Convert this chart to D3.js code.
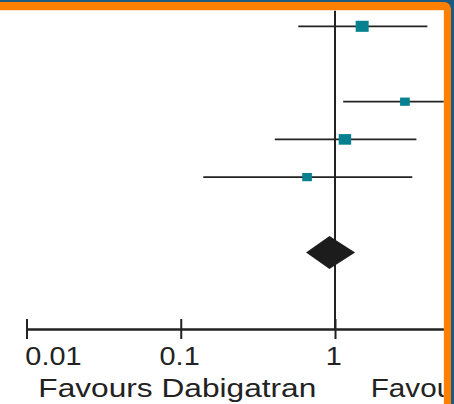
<!DOCTYPE html>
<html>
<head>
<meta charset="utf-8">
<script src="https://cdn.jsdelivr.net/npm/d3@7"></script>
<style>
  html, body { margin: 0; padding: 0; background: #fff; }
  svg { display: block; }
  text { font-family: "Liberation Sans", Arial, sans-serif; fill: #222; }
</style>
</head>
<body>
<script>
// ---- data ----
const rows = ["Study 1", "(blank 1)", "Study 2", "Study 3", "Study 4", "(blank 2)", "Overall"];
const studies = ["Study 1", "Study 2", "Study 3", "Study 4"];
const estimate = [1.50, 2.84, 1.16, 0.659];
const lower = [0.578, 1.13, 0.407, 0.140];
const upper = [3.97, 9.0, 3.37, 3.17];
const weight = [36, 20, 33, 20];
const pooled = { lower: 0.649, estimate: 0.921, upper: 1.349 };
const tickValues = [0.01, 0.1, 1];
const tickLabels = ["0.01", "0.1", "1"];
const leftTitle = "Favours Dabigatran";
const rightTitle = "Favours Warfarin";

// ---- layout ----
const W = 454, H = 404;
const svg = d3.select("body").append("svg").attr("width", W).attr("height", H);

const x = d3.scaleLog().domain([0.01, 10]).range([26.5, 26.5 + 154.25 * 3]);
const y = d3.scalePoint().domain(rows).range([26.3, 252.5]);
const size = d3.scaleSqrt().domain([0, 36]).range([0, 13]);
const axisY = 329;

// frame: blue background, orange rounded frame, white inner panel
svg.append("rect").attr("x", 0).attr("y", 0).attr("width", W).attr("height", H).attr("fill", "#1b5a82");
svg.append("rect").attr("x", -20).attr("y", 2).attr("width", 471).attr("height", H + 30).attr("rx", 7).attr("fill", "#ff7f00");
svg.append("rect").attr("x", -20).attr("y", 10).attr("width", 464).attr("height", H + 30).attr("fill", "#ffd9b0");
svg.append("rect").attr("x", -20).attr("y", 10.7).attr("width", 463.5).attr("height", H + 30).attr("fill", "#ffffff");

const defs = svg.append("defs");
defs.append("clipPath").attr("id", "inner")
  .append("rect").attr("x", -20).attr("y", 10.7).attr("width", 463.7).attr("height", H + 30);

const g = svg.append("g").attr("clip-path", "url(#inner)");

// null line at 1
g.append("line")
  .attr("x1", x(1)).attr("x2", x(1))
  .attr("y1", 0).attr("y2", axisY)
  .attr("stroke", "#222").attr("stroke-width", 2);

// confidence intervals
const data = studies.map((s, i) => ({ s, est: estimate[i], lo: lower[i], hi: upper[i], w: weight[i] }));
g.selectAll("line.ci").data(data).enter().append("line")
  .attr("class", "ci")
  .attr("x1", d => x(d.lo)).attr("x2", d => x(d.hi))
  .attr("y1", d => y(d.s)).attr("y2", d => y(d.s))
  .attr("stroke", "#222").attr("stroke-width", 1.8);

// squares
g.selectAll("rect.pt").data(data).enter().append("rect")
  .attr("class", "pt")
  .attr("x", d => x(d.est) - size(d.w) / 2)
  .attr("y", d => y(d.s) - size(d.w) * 0.85 / 2)
  .attr("width", d => size(d.w))
  .attr("height", d => size(d.w) * 0.85)
  .attr("fill", "#07808f");

// pooled diamond
const yc = y("Overall"), dh = 16.5;
g.append("path")
  .attr("d", `M${x(pooled.lower)},${yc} L${x(pooled.estimate)},${yc - dh} L${x(pooled.upper)},${yc} L${x(pooled.estimate)},${yc + dh} Z`)
  .attr("fill", "#1c1c1c");

// axis: ticks up (no labels) and down (labels)
const axUp = g.append("g").attr("transform", `translate(0,${axisY})`)
  .call(d3.axisTop(x).tickValues(tickValues).tickFormat("").tickSize(10).tickSizeOuter(0));
const axDown = g.append("g").attr("transform", `translate(0,${axisY})`)
  .call(d3.axisBottom(x).tickValues(tickValues).tickFormat((d, i) => tickLabels[i]).tickSize(10).tickSizeOuter(0));
[axUp, axDown].forEach(a => {
  a.selectAll("path.domain").attr("stroke", "#222").attr("stroke-width", 2);
  a.selectAll(".tick line").attr("stroke", "#222").attr("stroke-width", 2);
});
axDown.selectAll(".tick text")
  .attr("dy", 0).attr("y", 36)
  .style("font-size", "26.5px")
  .attr("fill", "#222")
  .attr("transform", "scale(1.09,1)")
  .attr("text-anchor", (d, i) => i === 0 ? "start" : "middle")
  .attr("x", -1.5);

// titles
g.append("text").text(leftTitle)
  .attr("transform", `translate(38.3,397) scale(1.195,1)`)
  .style("font-size", "26.5px");
g.append("text").text(rightTitle)
  .attr("transform", `translate(370.7,397) scale(1.12,1)`)
  .style("font-size", "26.5px");
</script>
</body>
</html>
